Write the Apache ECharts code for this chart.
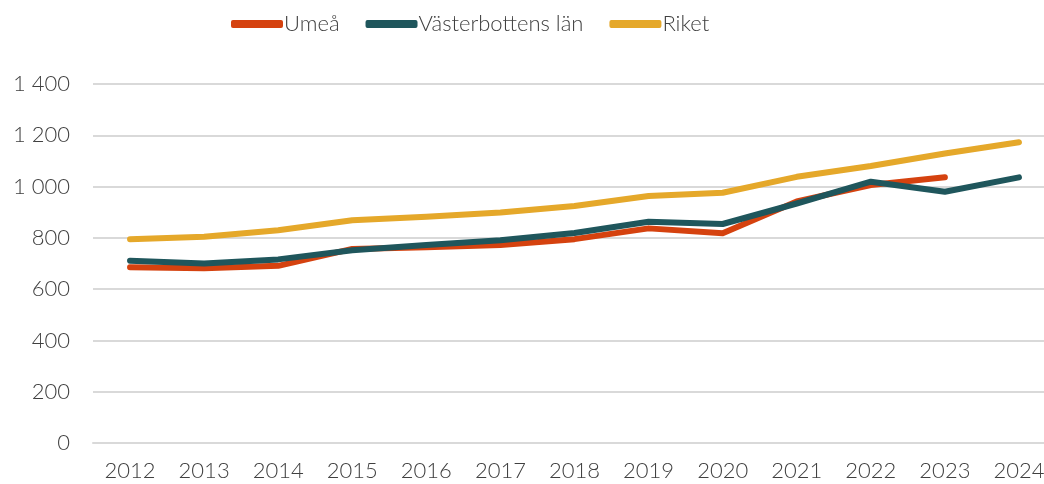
<!DOCTYPE html>
<html>
<head>
<meta charset="utf-8">
<script src="https://cdn.jsdelivr.net/npm/echarts@6/dist/echarts.min.js"></script>
<style>
  html, body { margin: 0; padding: 0; background: #fff; overflow: hidden; }
  #main { width: 1056px; height: 484px; }
</style>
</head>
<body>
<div id="main"></div>
<script>
// years on the x axis
const years = ['2012', '2013', '2014', '2015', '2016', '2017', '2018',
  '2019', '2020', '2021', '2022', '2023', '2024'];
// values
const umea = [685, 681, 691, 757, 763, 772, 795, 837, 818, 942, 1006, 1036, null];
const vasterbotten = [711, 700, 716, 752, 772, 791, 819, 863, 854, 934, 1019, 980, 1036];
const riket = [795, 804, 830, 869, 882, 899, 924, 963, 976, 1038, 1080, 1129, 1173];

const font = 'Lato, "Noto Sans", sans-serif';
const textColor = '#404040';

let chart = echarts.init(document.getElementById('main'));

function mkLine(name, data, color) {
  return {
    name: name,
    type: 'line',
    data: data,
    symbol: 'none',
    smooth: false,
    lineStyle: { width: 6, color: color, cap: 'round', join: 'round' },
    itemStyle: { color: color }
  };
}

let option = {
  animation: false,
  backgroundColor: '#fff',
  textStyle: { fontFamily: font },
  legend: {
    top: 8,
    left: 226,
    itemWidth: 52,
    itemHeight: 8,
    itemGap: 26,
    icon: 'roundRect',
    textStyle: { fontSize: 22, color: textColor, fontFamily: font, fontWeight: 300, padding: [0, 0, 0, -4] },
    data: ['Umeå', 'Västerbottens län', 'Riket']
  },
  grid: { left: 93, right: 0, top: 84, bottom: 41, containLabel: false },
  xAxis: {
    type: 'category',
    data: years,
    boundaryGap: true,
    axisLine: { show: true, lineStyle: { color: '#d9d9d9', width: 2 } },
    axisTick: { show: false },
    axisLabel: { fontSize: 22, color: textColor, fontFamily: font, fontWeight: 300, margin: 17 }
  },
  yAxis: {
    type: 'value',
    min: 0,
    max: 1400,
    interval: 200,
    axisLine: { show: false },
    axisTick: { show: false },
    splitLine: { lineStyle: { color: '#d9d9d9', width: 2 } },
    axisLabel: {
      fontSize: 22, color: textColor, fontFamily: font, fontWeight: 300, margin: 23,
      formatter: function (v) { return String(v).replace(/\B(?=(\d{3})+(?!\d))/g, ' '); }
    }
  },
  series: [
    mkLine('Umeå', umea, '#d5420f'),
    mkLine('Västerbottens län', vasterbotten, '#1f565c'),
    mkLine('Riket', riket, '#e5a82a')
  ]
};
chart.setOption(option);
</script>
</body>
</html>
